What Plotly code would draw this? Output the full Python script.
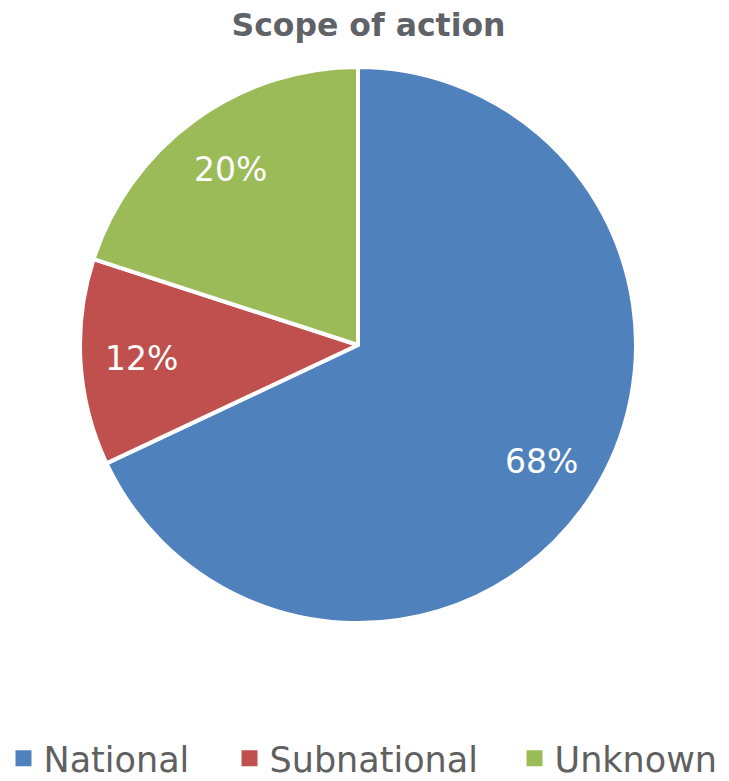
import math
import plotly.graph_objects as go

categories = ["National", "Subnational", "Unknown"]
values = [68, 12, 20]
colors = ["#4F81BD", "#C0504D", "#9BBB59"]

legend_ids = ["legend", "legend2", "legend3"]
legend_x = [-0.1376, 0.2689, 0.7815]

fig = go.Figure()
fig.add_trace(go.Pie(
    labels=categories,
    values=values,
    sort=False,
    direction="clockwise",
    rotation=0,
    marker=dict(colors=colors, line=dict(color="white", width=4)),
    textinfo="none",
    showlegend=False,
    hoverinfo="label+percent",
))

# legend entries
for name, col, lid in zip(categories, colors, legend_ids):
    fig.add_trace(go.Scatter(
        x=[None], y=[None], mode="markers", name=name,
        marker=dict(symbol="square", size=16, color=col),
        legend=lid, showlegend=True,
    ))

# percentage labels placed along each slice's bisector
total = sum(values)
annotations = []
cum = 0
for v in values:
    mid = (cum + v / 2) / total * 2 * math.pi
    cum += v
    annotations.append(dict(
        x=0.5 + 0.5 * 0.78 * math.sin(mid),
        y=0.5 + 0.5 * 0.78 * math.cos(mid),
        xref="paper", yref="paper", showarrow=False,
        text=f"{round(v / total * 100)}%",
        font=dict(family="DejaVu Sans", size=33, color="white"),
        xanchor="center", yanchor="middle",
    ))

legend_common = dict(orientation="h", yanchor="middle", y=-0.2435, xanchor="left",
                     font=dict(family="DejaVu Sans", size=35, color="#606060"),
                     bgcolor="rgba(0,0,0,0)", itemsizing="trace")

fig.update_layout(
    width=721, height=773,
    margin=dict(l=72, r=93, t=59, b=158, autoexpand=False),
    paper_bgcolor="white",
    plot_bgcolor="white",
    xaxis=dict(visible=False),
    yaxis=dict(visible=False),
    title=dict(text="<b>Scope of action</b>", x=0.5, xanchor="center", y=0.9775, yanchor="middle",
               font=dict(family="DejaVu Sans", size=31.5, color="#5F6266")),
    annotations=annotations,
    legend=dict(x=legend_x[0], **legend_common),
    legend2=dict(x=legend_x[1], **legend_common),
    legend3=dict(x=legend_x[2], **legend_common),
)

fig.write_html("out.html")
